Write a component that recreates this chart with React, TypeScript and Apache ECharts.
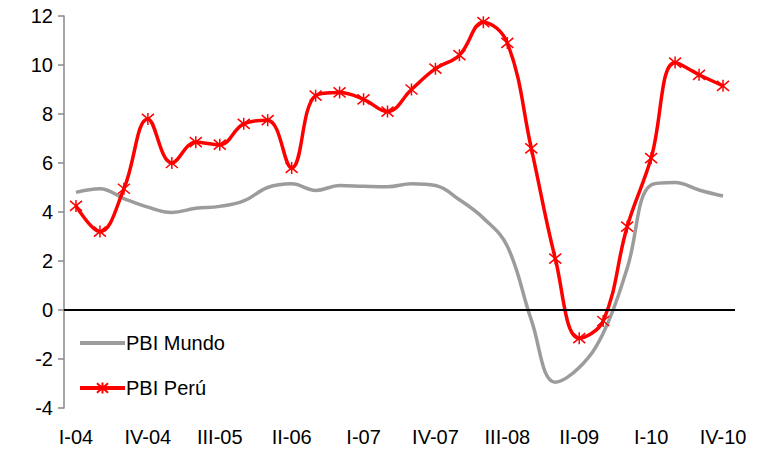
import React, { useEffect, useRef } from "react";
import * as echarts from "echarts";

const categories = [
  "I-04", "II-04", "III-04", "IV-04",
  "I-05", "II-05", "III-05", "IV-05",
  "I-06", "II-06", "III-06", "IV-06",
  "I-07", "II-07", "III-07", "IV-07",
  "I-08", "II-08", "III-08", "IV-08",
  "I-09", "II-09", "III-09", "IV-09",
  "I-10", "II-10", "III-10", "IV-10",
];

const pbiMundo = [
  4.8, 4.95, 4.55, 4.2, 3.98, 4.15, 4.23, 4.45,
  5.0, 5.15, 4.88, 5.08, 5.05, 5.03, 5.15, 5.08,
  4.5, 3.75, 2.6, -0.4, -2.95, -2.35, -0.95, 1.7,
  5.1, 5.2, 4.9, 4.65,
];

const pbiPeru = [
  4.25, 3.2, 4.95, 7.8, 6.0, 6.85, 6.75, 7.6,
  7.75, 5.8, 8.75, 8.88, 8.6, 8.1, 9.0, 9.85,
  10.4, 11.75, 10.9, 6.6, 2.1, -1.15, -0.45, 3.4,
  6.2, 10.1, 9.6, 9.15,
];

const yTicks = { min: -4, max: 12, interval: 2 };

const FONT = "Liberation Sans, Arial, sans-serif";

export default function App() {
  const ref = useRef<HTMLDivElement>(null);
  useEffect(() => {
    document.body.style.margin = "0";
    if (!ref.current) return;
    const chart = echarts.init(ref.current, null, { renderer: "svg" });
    chart.setOption({
      animation: false,
      backgroundColor: "#ffffff",
      textStyle: { fontFamily: FONT },
      grid: { left: 64, right: 30, top: 16, bottom: 43, containLabel: false },
      legend: {
        orient: "vertical",
        left: 73,
        top: 328,
        itemWidth: 45,
        itemHeight: 14,
        itemGap: 25,
        textStyle: { fontSize: 20, color: "#000", fontFamily: FONT, padding: [0, 0, 0, -4] },
        data: [
          { name: "PBI Mundo", itemStyle: { opacity: 0 }, lineStyle: { width: 4 } },
          { name: "PBI Perú", lineStyle: { width: 4 } },
        ],
      },
      xAxis: {
        type: "category",
        data: categories,
        boundaryGap: true,
        axisLine: { show: false, onZero: false },
        axisTick: { show: false },
        axisLabel: {
          interval: 2,
          fontSize: 20,
          color: "#000",
          margin: 19,
          fontFamily: FONT,
        },
        splitLine: { show: false },
      },
      yAxis: {
        type: "value",
        min: yTicks.min,
        max: yTicks.max,
        interval: yTicks.interval,
        axisLine: { show: true, lineStyle: { color: "#888", width: 1.5 } },
        axisTick: { show: true, length: 6, lineStyle: { color: "#888", width: 1.5 } },
        axisLabel: { fontSize: 20, color: "#000", margin: 11, fontFamily: FONT },
        splitLine: { show: false },
      },
      series: [
        {
          name: "PBI Mundo",
          type: "line",
          data: pbiMundo,
          smooth: 0.4,
          symbol: "none",
          lineStyle: { color: "#9c9c9c", width: 3.5 },
          itemStyle: { color: "#9c9c9c" },
          markLine: {
            silent: true,
            symbol: "none",
            label: { show: false },
            lineStyle: { color: "#000", width: 2, type: "solid" },
            data: [{ yAxis: 0 }],
          },
          z: 2,
        },
        {
          name: "PBI Perú",
          type: "line",
          data: pbiPeru,
          smooth: 0.4,
          symbol: "path://M0,0L10,10M10,0L0,10M5,-1L5,11",
          symbolSize: 12,
          showAllSymbol: true,
          lineStyle: { color: "#ff0000", width: 3.5 },
          itemStyle: { color: "#ff0000", borderColor: "#ff0000", borderWidth: 1.5 },
          z: 3,
        },
      ],
    });
    return () => chart.dispose();
  }, []);
  return <div ref={ref} style={{ width: 765, height: 451 }} />;
}
